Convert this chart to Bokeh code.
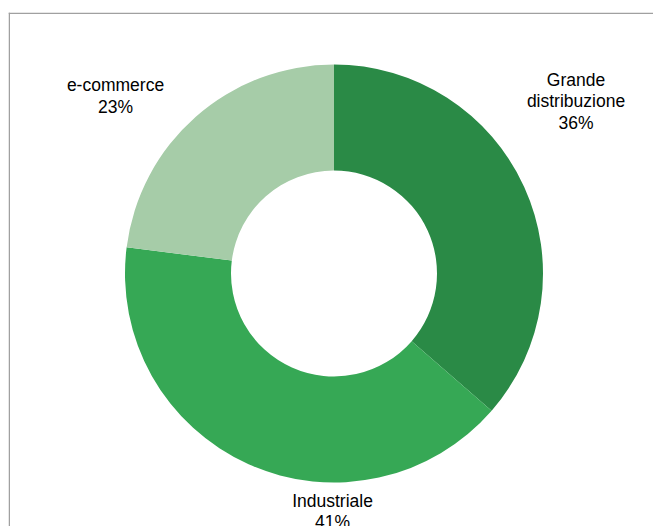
import numpy as np
from bokeh.plotting import figure
from bokeh.models import Range1d, Span, ColumnDataSource
from bokeh.core.properties import value
from bokeh.embed import file_html
from bokeh.resources import INLINE

# data (shares; labels show them rounded)
categories = ["Grande distribuzione", "Industriale", "e-commerce"]
label_lines = ["Grande\ndistribuzione", "Industriale", "e-commerce"]
shares = [36.4, 40.6, 23.0]
colors = ["#2a8a46", "#36a855", "#a6cca8"]

# layout
W, H = 653, 526
LEFT, TOP = 8, 12
FW, FH = W - LEFT, H - TOP
CX, CY = 325.5, 253.0
R_OUT, R_IN = 209.0, 103.0
label_offsets = [(242.0, 172.0), (-1.5, -238.0), (-218.5, 177.5)]

fracs = np.array(shares, dtype=float) / np.sum(shares)
cum = np.concatenate([[0.0], np.cumsum(fracs)])
start = np.pi / 2 - 2 * np.pi * cum[:-1]
end = np.pi / 2 - 2 * np.pi * cum[1:]

p = figure(width=W, height=H, output_backend="svg", toolbar_location=None,
           title=None, x_range=Range1d(0, FW), y_range=Range1d(0, FH),
           min_border_left=LEFT, min_border_right=0, min_border_bottom=0,
           min_border_top=TOP)
p.axis.visible = False
p.grid.visible = False
p.outline_line_color = None
p.background_fill_color = "white"
p.border_fill_color = "white"

src = ColumnDataSource(dict(x=[CX] * 3, y=[CY] * 3, start=start, end=end,
                            color=colors, cat=categories))
p.annular_wedge(x="x", y="y", inner_radius=R_IN, outer_radius=R_OUT,
                start_angle="start", end_angle="end", direction="clock",
                fill_color="color", line_color=None, source=src)

texts = [f"{l}\n{round(s)}%" for l, s in zip(label_lines, shares)]
lx = [CX + dx for dx, dy in label_offsets]
ly = [CY + dy for dx, dy in label_offsets]
p.text(x=lx, y=ly, text=texts, text_align="center", text_baseline="middle",
       text_font=value("Liberation Sans"), text_font_size="17.5px",
       text_color="#000000", text_line_height=1.06)

# chart-area border (left and top)
p.add_layout(Span(location=0.75, dimension="height", line_color="#a0a0a0", line_width=1.5))
p.add_layout(Span(location=FH - 0.75, dimension="width", line_color="#a0a0a0", line_width=1.5))

open("out.html", "w").write(file_html(p, INLINE))
